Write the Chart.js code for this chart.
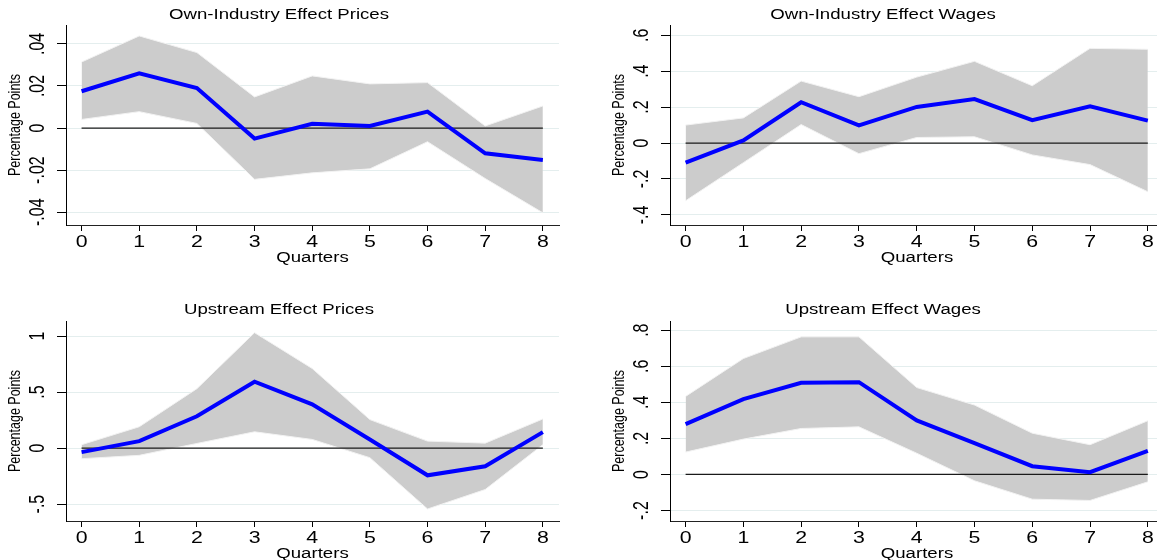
<!DOCTYPE html>
<html>
<head>
<meta charset="utf-8">
<title>Impulse responses</title>
<script src="https://cdn.jsdelivr.net/npm/chart.js@4.4.1/dist/chart.umd.min.js"></script>
<style>
    html, body { margin: 0; padding: 0; background: #fff; }
    body { width: 1157px; height: 560px; position: relative; overflow: hidden; }
    canvas { position: absolute; }
</style>
</head>
<body>
<canvas id="c1" width="578" height="282" style="left:0;top:0;width:578px;height:282px"></canvas>
<canvas id="c2" width="570" height="282" style="left:600px;top:0;width:570px;height:282px"></canvas>
<canvas id="c3" width="578" height="270" style="left:0;top:290px;width:578px;height:270px"></canvas>
<canvas id="c4" width="570" height="270" style="left:600px;top:290px;width:570px;height:270px"></canvas>
<script>
// --- data ---
const quarters = [0, 1, 2, 3, 4, 5, 6, 7, 8];

const ownPricesIrf = [0.0175, 0.026, 0.019, -0.005, 0.002, 0.001, 0.0078, -0.012, -0.0152];
const ownPricesHi  = [0.0314, 0.0438, 0.0359, 0.0148, 0.0248, 0.021, 0.0216, 0.001, 0.0105];
const ownPricesLo  = [0.0041, 0.0078, 0.0022, -0.0244, -0.0213, -0.0194, -0.0065, -0.024, -0.0403];

const ownWagesIrf = [-0.109, 0.015, 0.227, 0.098, 0.201, 0.245, 0.127, 0.205, 0.125];
const ownWagesHi  = [0.10, 0.14, 0.345, 0.258, 0.367, 0.455, 0.319, 0.527, 0.522];
const ownWagesLo  = [-0.321, -0.109, 0.103, -0.059, 0.031, 0.035, -0.066, -0.12, -0.271];

const upPricesIrf = [-0.036, 0.062, 0.284, 0.592, 0.39, 0.077, -0.243, -0.163, 0.142];
const upPricesHi  = [0.03, 0.19, 0.53, 1.03, 0.71, 0.254, 0.062, 0.044, 0.26];
const upPricesLo  = [-0.095, -0.065, 0.041, 0.145, 0.077, -0.086, -0.544, -0.37, 0.03];

const upWagesIrf = [0.279, 0.418, 0.508, 0.512, 0.30, 0.174, 0.046, 0.013, 0.131];
const upWagesHi  = [0.433, 0.643, 0.763, 0.763, 0.482, 0.385, 0.229, 0.165, 0.298];
const upWagesLo  = [0.124, 0.196, 0.255, 0.264, 0.118, -0.035, -0.137, -0.144, -0.041];

// y tick values and their Stata-style labels
const ownPricesTicks  = [0.04, 0.02, 0, -0.02, -0.04];
const ownPricesLabels = ['.04', '.02', '0', '-.02', '-.04'];
const ownWagesTicks   = [0.6, 0.4, 0.2, 0, -0.2, -0.4];
const ownWagesLabels  = ['.6', '.4', '.2', '0', '-.2', '-.4'];
const upPricesTicks   = [1, 0.5, 0, -0.5];
const upPricesLabels  = ['1', '.5', '0', '-.5'];
const upWagesTicks    = [0.8, 0.6, 0.4, 0.2, 0, -0.2];
const upWagesLabels   = ['.8', '.6', '.4', '.2', '0', '-.2'];
// ----------------------------------

const FONT = '"Liberation Sans", Arial, Helvetica, sans-serif';
const STRETCH = 1.33; // the original graph is stretched sideways

// draw text centred at x,y, widened like the exported Stata graph
function wideText(ctx, text, x, y, size, rotated) {
    ctx.save();
    ctx.translate(x, y);
    if (rotated) {
        ctx.rotate(-Math.PI / 2);
        ctx.scale(1, STRETCH);
    } else {
        ctx.scale(STRETCH, 1);
    }
    ctx.font = size + 'px ' + FONT;
    ctx.fillStyle = '#000';
    ctx.textAlign = 'center';
    ctx.textBaseline = 'middle';
    ctx.fillText(text, 0, 0);
    ctx.restore();
}

const pts = (ys) => quarters.map((q, i) => ({ x: q, y: ys[i] }));

function makePanel(id, p) {
    const canvas = document.getElementById(id);

    // titles and tick labels, placed with the chart's own scales
    const textPlugin = {
        id: 'stataText',
        afterDraw(chart) {
            const ctx = chart.ctx;
            const area = chart.chartArea;
            const xs = chart.scales.x;
            const ys = chart.scales.y;
            wideText(ctx, p.title, p.titleX, p.titleY, 14, false);
            quarters.forEach(q => {
                wideText(ctx, String(q), xs.getPixelForValue(q), area.bottom + 18, 16, false);
            });
            wideText(ctx, 'Quarters', (area.left + area.right) / 2, area.bottom + 33, 14, false);
            p.ticks.forEach((v, i) => {
                wideText(ctx, p.labels[i], area.left - 28, ys.getPixelForValue(v), 16, true);
            });
            wideText(ctx, 'Percentage Points', area.left - 51, (area.top + area.bottom) / 2, 12.5, true);
        }
    };

    new Chart(canvas, {
        type: 'line',
        data: {
            datasets: [
                { data: pts(p.irf), borderColor: '#0000ff', borderWidth: 4, pointRadius: 0, fill: false, order: 0 },
                { data: [{ x: 0, y: 0 }, { x: 8, y: 0 }], borderColor: '#1a1a1a', borderWidth: 1.2, pointRadius: 0, fill: false, order: 1 },
                { data: pts(p.hi), borderColor: '#f2f2f2', borderWidth: 1, pointRadius: 0, backgroundColor: '#cccccc', fill: '+1', order: 2 },
                { data: pts(p.lo), borderColor: '#f2f2f2', borderWidth: 1, pointRadius: 0, fill: false, order: 3 }
            ]
        },
        options: {
            responsive: false,
            animation: false,
            devicePixelRatio: 1,
            layout: { padding: { top: p.top, right: p.right, left: 0, bottom: 0 } },
            plugins: {
                legend: { display: false },
                tooltip: { enabled: false },
                filler: { drawTime: 'beforeDatasetsDraw' }
            },
            elements: { line: { tension: 0 } },
            scales: {
                x: {
                    type: 'linear',
                    min: -0.27,
                    max: 8.28,
                    afterBuildTicks: s => { s.ticks = quarters.map(v => ({ value: v })); },
                    afterFit: s => { s.height = canvas.height - p.bottom; },
                    ticks: { display: false },
                    grid: { drawOnChartArea: false, tickLength: 6, color: '#000', tickColor: '#000' },
                    border: { display: true, color: '#222', width: 1 }
                },
                y: {
                    type: 'linear',
                    min: p.min,
                    max: p.max,
                    afterBuildTicks: s => { s.ticks = p.ticks.map(v => ({ value: v })); },
                    afterFit: s => { s.width = p.left; },
                    ticks: { display: false },
                    grid: { color: '#e4eeee', lineWidth: 1, tickLength: 9, tickColor: '#000' },
                    border: { display: true, color: '#000', width: 1 }
                }
            }
        },
        plugins: [textPlugin]
    });
}

makePanel('c1', {
    title: 'Own-Industry Effect Prices', titleX: 279, titleY: 15.5,
    irf: ownPricesIrf, hi: ownPricesHi, lo: ownPricesLo,
    ticks: ownPricesTicks, labels: ownPricesLabels,
    min: -0.0461, max: 0.049,
    left: 66, top: 25, bottom: 225, right: 19
});

makePanel('c2', {
    title: 'Own-Industry Effect Wages', titleX: 283, titleY: 15.5,
    irf: ownWagesIrf, hi: ownWagesHi, lo: ownWagesLo,
    ticks: ownWagesTicks, labels: ownWagesLabels,
    min: -0.456, max: 0.657,
    left: 70, top: 25, bottom: 225, right: 6
});

makePanel('c3', {
    title: 'Upstream Effect Prices', titleX: 279, titleY: 20.5,
    irf: upPricesIrf, hi: upPricesHi, lo: upPricesLo,
    ticks: upPricesTicks, labels: upPricesLabels,
    min: -0.651, max: 1.134,
    left: 66, top: 31, bottom: 231, right: 19
});

makePanel('c4', {
    title: 'Upstream Effect Wages', titleX: 283, titleY: 20.5,
    irf: upWagesIrf, hi: upWagesHi, lo: upWagesLo,
    ticks: upWagesTicks, labels: upWagesLabels,
    min: -0.258, max: 0.851,
    left: 70, top: 31, bottom: 231, right: 6
});
</script>
</body>
</html>
